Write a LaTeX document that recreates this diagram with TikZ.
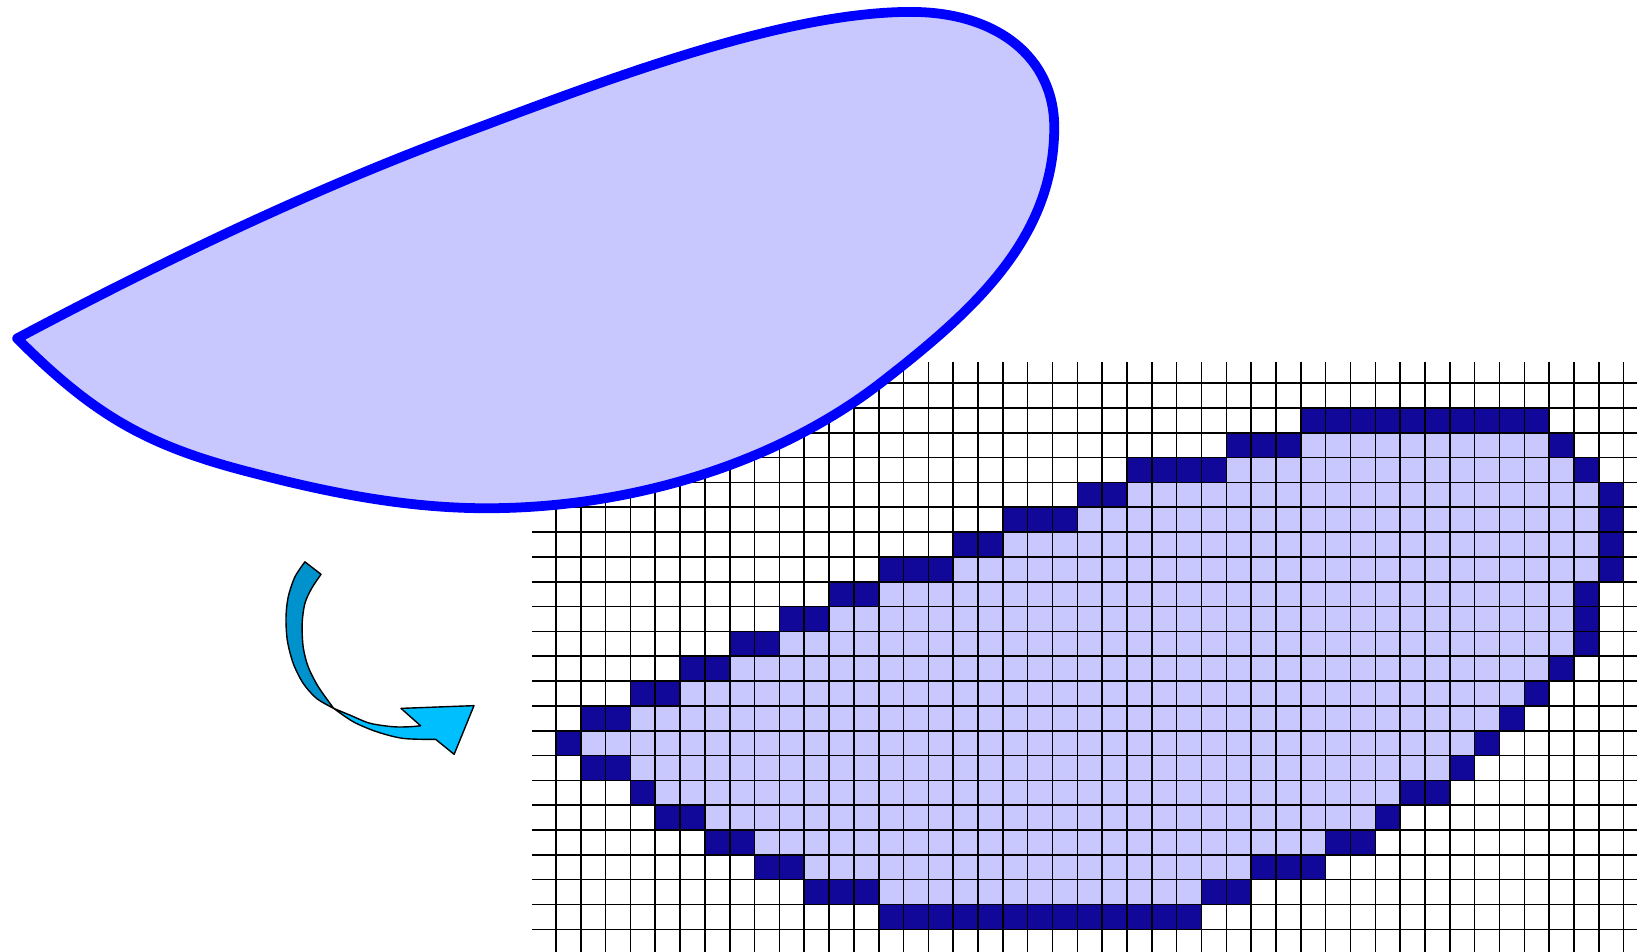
\documentclass[tikz,border=0pt]{standalone}
\usepackage{tikz}
\definecolor{cellnavy}{RGB}{17,8,153}
\definecolor{paleblue}{RGB}{200,200,255}
\definecolor{rim}{RGB}{0,0,255}
\definecolor{ribbondark}{RGB}{0,146,204}
\definecolor{ribbonlight}{RGB}{0,191,255}

\begin{document}
\begin{tikzpicture}[x=0.5cm,y=0.5cm,
  dark/.style={fill=cellnavy},
  light/.style={fill=paleblue},
  gridline/.style={draw=black,line width=0.9pt},
  blob/.style={draw=rim,fill=paleblue,line width=5.6pt,line join=round},
  ribbon/.style={draw=black,line width=0.8pt,line join=round}]
\useasboundingbox (-22.39,-0.874) rectangle (43.54,37.43);
\clip (-22.39,-0.874) rectangle (43.54,37.43);
\foreach \r/\a/\b/\c/\d in {0/13/19/20/25,1/10/12/26/27,2/8/9/28/30,3/6/7/31/32,
  4/4/5/33/33,5/3/3/34/35,6/1/2/36/36,7/0/0/37/37,8/1/2/38/38,9/3/4/39/39,
  10/5/6/40/40,11/7/8/41/41,12/9/10/41/41,13/11/12/41/41,14/13/15/42/42,
  15/16/17/42/42,16/18/20/42/42,17/21/22/42/42,18/23/26/41/41,19/27/29/40/40,
  20/30/34/35/39}{
  \fill[dark] (\a,\r) rectangle (\b+1,\r+1);
  \fill[light] (\b+1,\r) rectangle (\c,\r+1);
  \fill[dark] (\c,\r) rectangle (\d+1,\r+1);
}
\foreach \i in {0,...,43} \draw[gridline] (\i,-1) -- (\i,22.85);
\foreach \j in {0,...,22} \draw[gridline] (-0.97,\j) -- (44,\j);
\draw[blob] (-21.7,23.8) .. controls (-15.96,26.85) and (-9.99,29.73) .. (-3.9,32)
  .. controls (1.6,34.05) and (9,36.95) .. (14.3,36.95)
  .. controls (17.75,36.95) and (20.07,35.13) .. (20.07,32.3)
  .. controls (20.07,27.8) and (16.75,24.87) .. (13.2,22.1)
  .. controls (8.79,18.65) and (2.8,16.96) .. (-2.8,16.96)
  .. controls (-5.9,16.96) and (-9,17.55) .. (-12,18.33)
  .. controls (-16.37,19.42) and (-18.52,20.62) .. (-21.7,23.8) -- cycle;
\filldraw[ribbon,fill=ribbondark] plot[smooth] coordinates {(-10.11,14.8)
  (-10.51,14.2) (-10.78,13.4) (-10.87,12.59) (-10.82,11.65) (-10.58,10.71)
  (-10.18,9.91) (-9.64,9.3) (-8.95,8.9)}
  -- plot[smooth] coordinates {(-8.95,8.9) (-9.57,9.77) (-9.98,10.58)
  (-10.18,11.38) (-10.22,12.32) (-10.11,13.13) (-9.84,13.73) (-9.46,14.3)} -- cycle;
\filldraw[ribbon,fill=ribbonlight] plot[smooth] coordinates {(-8.95,8.9)
  (-8.16,8.36) (-7.22,7.96) (-6.15,7.69) (-4.84,7.65)} -- (-4.1,7.05)
  -- (-3.3,9.01) -- (-6.24,8.9) -- (-5.45,8.2) -- plot[smooth] coordinates {(-5.45,8.2)
  (-5.88,8.16) (-6.55,8.16) (-7.49,8.3) (-8.3,8.63) (-8.95,8.9)} -- cycle;
\end{tikzpicture}
\end{document}
